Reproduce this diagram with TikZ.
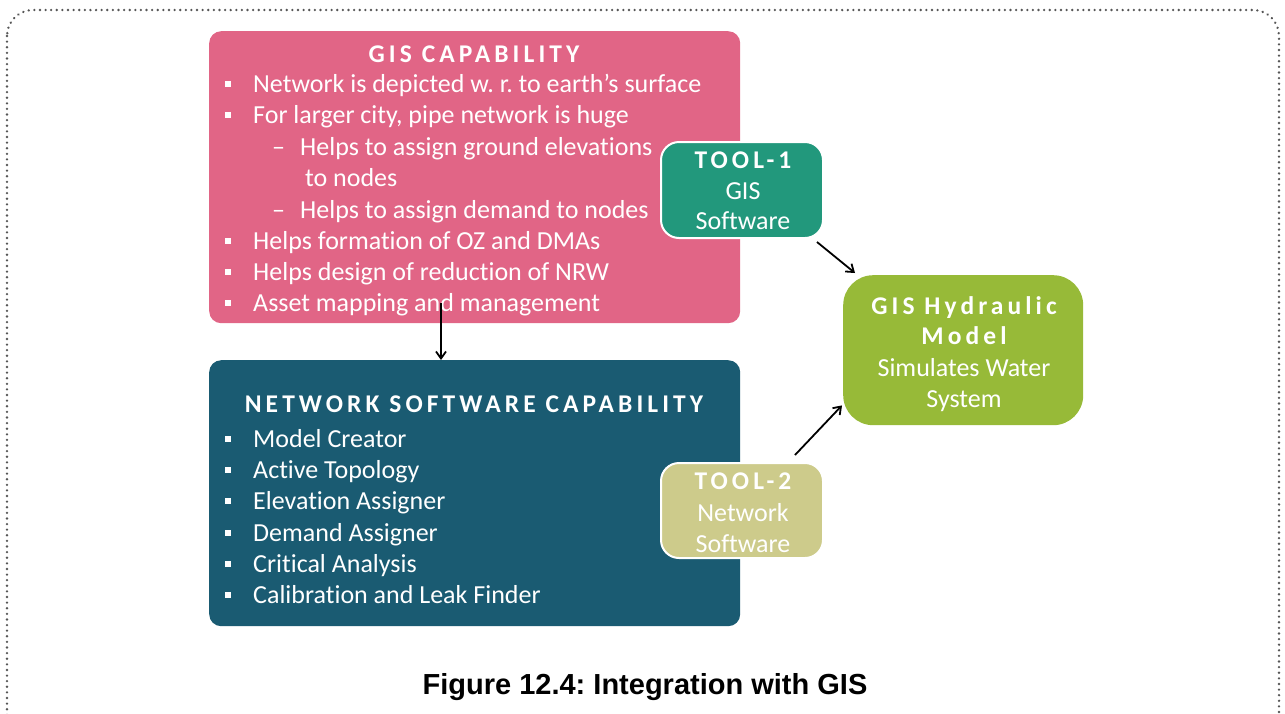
\documentclass[tikz,border=0pt]{standalone}
\usepackage{fontspec}
\setmainfont{Carlito}[Ligatures={NoCommon}]
\newfontfamily\capfont{Liberation Sans}
\usetikzlibrary{arrows.meta,calc}

\definecolor{gispink}{RGB}{225,101,134}
\definecolor{netteal}{RGB}{26,91,114}
\definecolor{toolone}{RGB}{34,152,124}
\definecolor{tooltwo}{RGB}{205,203,139}
\definecolor{hydgreen}{RGB}{151,186,56}
\definecolor{framegray}{RGB}{85,85,85}

\tikzset{
  bigbox/.style={draw=none, rounded corners=12pt, inner sep=0pt},
  toolbox/.style={draw=white, line width=2pt, rounded corners=18pt, inner sep=0pt},
  item/.style={anchor=base west, inner sep=0pt, text=white,
    font=\fontsize{26}{30}\selectfont},
  boxtitle/.style={anchor=base, inner sep=0pt, text=white,
    font=\fontsize{25.5}{30}\selectfont\bfseries\addfontfeature{LetterSpace=16}},
  boxline/.style={anchor=base, inner sep=0pt, text=white,
    font=\fontsize{26}{30}\selectfont},
  bul/.style={anchor=base west, inner sep=0pt, text=white,
    font=\fontsize{26}{30}\selectfont},
  link/.style={-{Straight Barb[length=7pt,width=10pt,line width=1.8pt]}, line width=1.8pt, black},
}

\newcommand{\sqb}{\raisebox{5pt}{\rule{6pt}{6pt}}}

\begin{document}
\begin{tikzpicture}[x=1pt,y=-1pt]
\useasboundingbox (0,0) rectangle (1285,713);

% dotted outer frame, running off the lower edge
\begin{scope}
  \clip (0,0) rectangle (1285,713);
  \draw[framegray, line width=2.6pt, dash pattern=on 0.01pt off 5.6pt, line cap=round,
        rounded corners=26pt] (7,10) rectangle (1279,745);
\end{scope}

% main boxes
\node[bigbox, fill=gispink, minimum width=531pt, minimum height=292pt, anchor=north west]
  (gis) at (209,31) {};
\node[bigbox, fill=netteal, minimum width=531pt, minimum height=266pt, anchor=north west]
  (net) at (209,360) {};

% GIS capability text
\node[boxtitle] (gistitle) at (474,62) {GIS CAPABILITY};
\node[bul] (gb1) at (225,92) {\sqb};
\node[item] (gi1) at (253,92) {Network is depicted w.\ r.\ to earth’s surface};
\node[bul] (gb2) at (225,123) {\sqb};
\node[item] (gi2) at (253,123) {For larger city, pipe network is huge};
\node[item] (gd1) at (272,155) {–};
\node[item] (gi3) at (300,155) {Helps to assign ground elevations};
\node[item] (gi4) at (305,186) {to nodes};
\node[item] (gd2) at (272,218) {–};
\node[item] (gi5) at (300,218) {Helps to assign demand to nodes};
\node[bul] (gb3) at (225,249) {\sqb};
\node[item] (gi6) at (253,249) {Helps formation of OZ and DMAs};
\node[bul] (gb4) at (225,280) {\sqb};
\node[item] (gi7) at (253,280) {Helps design of reduction of NRW};
\node[bul] (gb5) at (225,311) {\sqb};
\node[item] (gi8) at (253,311) {Asset mapping and management};

% Network software capability text
\node[boxtitle] (nettitle) at (474,412) {NETWORK SOFTWARE CAPABILITY};
\node[bul] (nb1) at (225,447) {\sqb};
\node[item] (ni1) at (253,447) {Model Creator};
\node[bul] (nb2) at (225,478) {\sqb};
\node[item] (ni2) at (253,478) {Active Topology};
\node[bul] (nb3) at (225,509) {\sqb};
\node[item] (ni3) at (253,509) {Elevation Assigner};
\node[bul] (nb4) at (225,541) {\sqb};
\node[item] (ni4) at (253,541) {Demand Assigner};
\node[bul] (nb5) at (225,572) {\sqb};
\node[item] (ni5) at (253,572) {Critical Analysis};
\node[bul] (nb6) at (225,603) {\sqb};
\node[item] (ni6) at (253,603) {Calibration and Leak Finder};

% tool boxes
\node[toolbox, fill=toolone, minimum width=162pt, minimum height=96pt, anchor=north west]
  (tool1) at (660,141) {};
\node[boxtitle] (t1a) at (743,168) {TOOL-1};
\node[boxline] (t1b) at (743,199) {GIS};
\node[boxline] (t1c) at (743,229) {Software};

\node[toolbox, fill=tooltwo, minimum width=162pt, minimum height=95pt, anchor=north west]
  (tool2) at (660,462) {};
\node[boxtitle] (t2a) at (743,489) {TOOL-2};
\node[boxline] (t2b) at (743,521) {Network};
\node[boxline] (t2c) at (743,552) {Software};

% hydraulic model box
\node[draw=none, rounded corners=30pt, fill=hydgreen, minimum width=240pt, minimum height=150pt,
      anchor=north west, inner sep=0pt] (hyd) at (843,275) {};
\node[boxtitle] (h1) at (964,314) {GIS Hydraulic};
\node[boxtitle] (h2) at (964,344) {Model};
\node[boxline] (h3) at (964,376) {Simulates Water};
\node[boxline] (h4) at (964,407) {System};

% connectors
\coordinate (gisout) at (441,303);
\draw[link] (gisout) -- (gisout |- net.north);
\draw[link] ($(tool1.south east)+(-7,3)$) -- ($(hyd.north west)+(12,-2)$);
\draw[link] ($(tool2.north east)+(-29,-7)$) -- ($(hyd.south west)+(-1,-20)$);

% caption
\node[anchor=base, inner sep=0pt, font=\capfont\bfseries\fontsize{29}{33}\selectfont]
  (caption) at (645,694) {\frenchspacing Figure 12.4: Integration with GIS};
\end{tikzpicture}
\end{document}
